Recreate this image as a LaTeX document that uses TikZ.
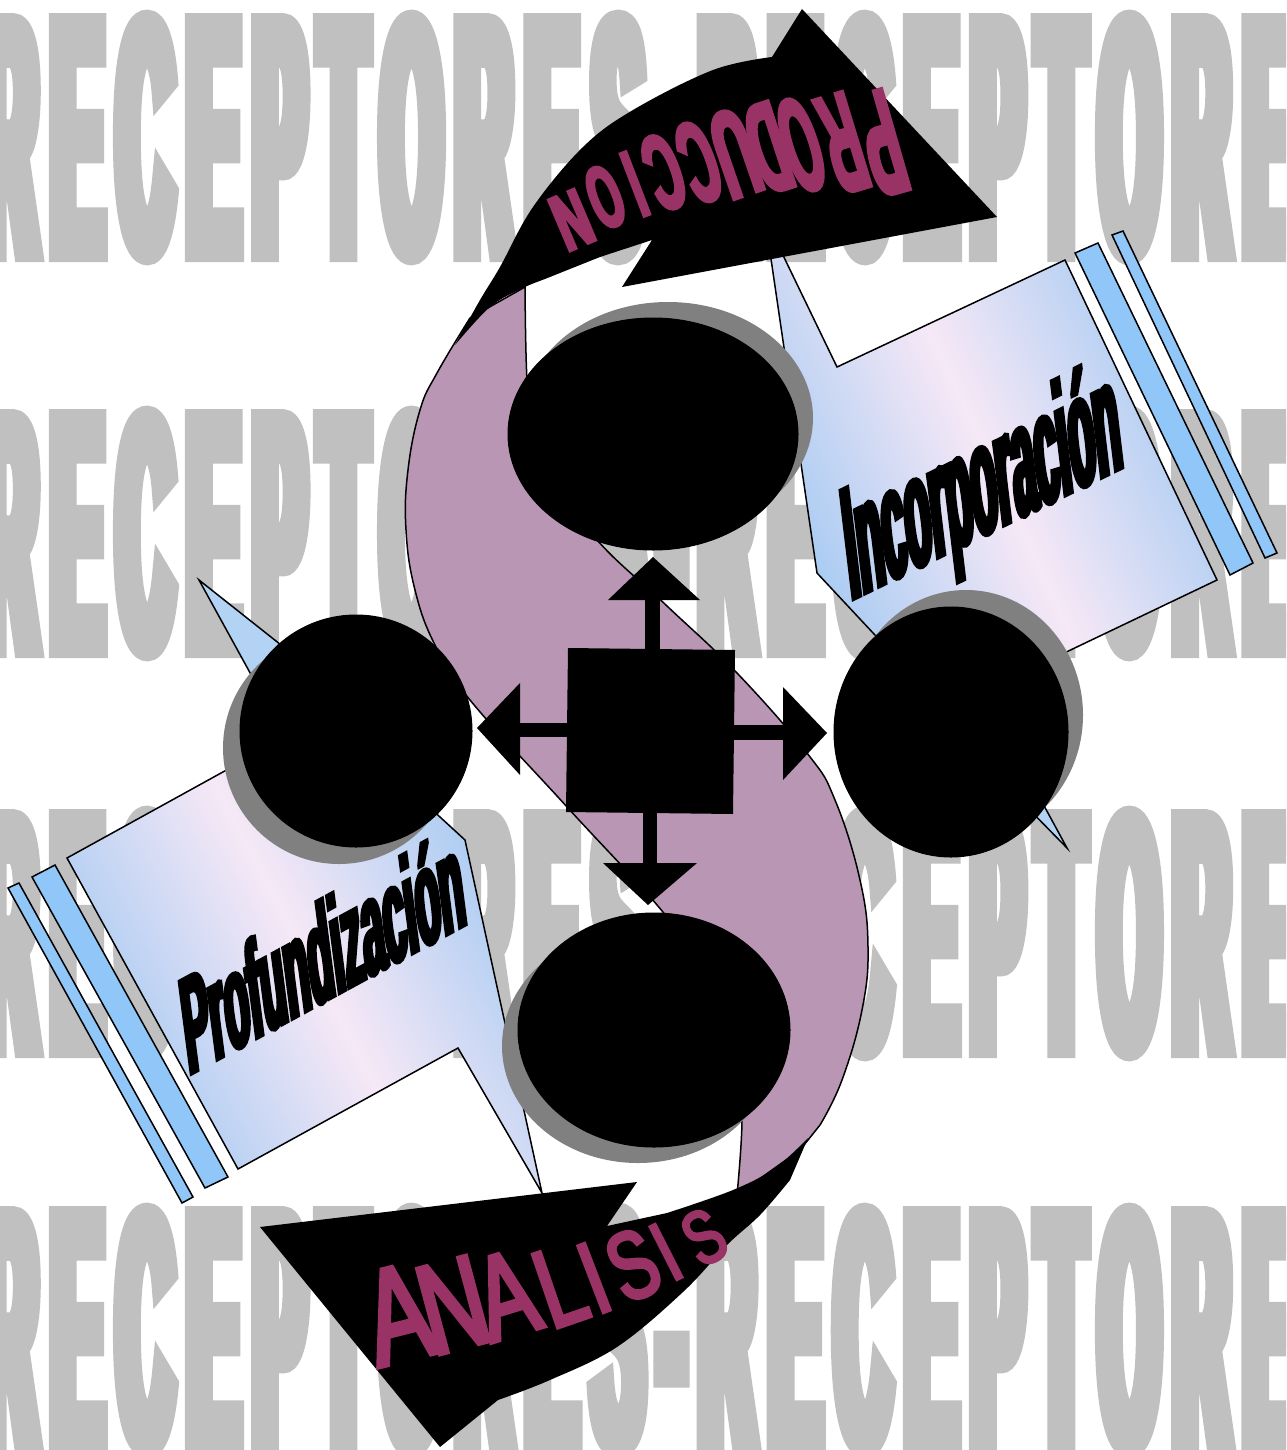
\documentclass[tikz,border=0pt]{standalone}
\usepackage{fontspec}
\newfontfamily\bgfont{Liberation Sans Bold}[FakeStretch=0.2226,FakeBold=5.04]
\newfontfamily\incfont{Liberation Sans Bold}[FakeStretch=0.261,FakeBold=2.9]
\newfontfamily\profont{Liberation Sans Bold}[FakeStretch=0.288,FakeBold=3.0]
\newfontfamily\prodfont{Liberation Sans Bold}[FakeStretch=0.42,FakeBold=3.2]
\newfontfamily\anafont{Liberation Sans}[FakeStretch=0.7,FakeBold=3.6]
\definecolor{bggray}{RGB}{192,192,192}
\definecolor{spurple}{RGB}{185,150,180}
\definecolor{mag}{RGB}{153,51,102}
\definecolor{shadowgray}{RGB}{128,128,128}
\definecolor{bnblue}{RGB}{160,200,242}
\definecolor{bnpink}{RGB}{246,232,246}
\definecolor{stripblue}{RGB}{145,198,248}
\newcommand{\bgk}{\kern16pt\relax}
\newcommand{\bgword}{R\bgk E\bgk C\bgk E\bgk P\bgk T\bgk O\bgk R\bgk E\bgk S\bgk -\bgk R\bgk E\bgk C\bgk E\bgk P\bgk T\bgk O\bgk R\bgk E\bgk S}
\tikzset{
  bgtxt/.style={anchor=base west, inner sep=0, text=bggray,
    font=\bgfont\fontsize{337}{337}\selectfont},
  ltr/.style={transform shape, inner sep=0, text=mag},
  outl/.style={draw=black, line width=1.5},
  strip/.style={fill=stripblue, draw=black, line width=1.5},
  shadowc/.style={fill=shadowgray},
  blackc/.style={fill=black, draw=black, line width=1},
}
% x, y, rotation, size, font, xscale, letter, name
\newcommand{\myltr}[8]{%
  \begin{scope}[shift={(#1,#2)}, rotate=#3, xscale=#6]
    \node[ltr, name=#8, font=#5\fontsize{#4}{#4}\selectfont] at (0,0) {#7};
  \end{scope}}
\begin{document}
\begin{tikzpicture}[x=1pt, y=-1pt]
\useasboundingbox (0,0) rectangle (1286,1450);
\clip (0,0) rectangle (1286,1450);
\fill[white] (0,0) rectangle (1286,1450);
% background words
\foreach \by/\nm in {253.5/r1, 649.5/r2, 1049.5/r3, 1446.5/r4}{
  \node[bgtxt, name=\nm] at (-18,\by) {\bgword};}
% purple S
\filldraw[fill=spurple, outl]
  plot[smooth, tension=0.7] coordinates {(470,318) (437,373) (420,410) (408,470) (406,530) (415,590) (435,645) (470,700) (568,808) (667,917) (715,990) (738,1060) (742,1120) (737,1195)}
  -- (800,1150)
  -- plot[smooth, tension=0.7] coordinates {(820,1125) (842,1080) (862,1010) (868,947) (860,880) (835,800) (807,753) (737,673) (667,606) (597,540) (555,480) (533,420) (527,380) (525,287)}
  -- cycle;
% banner Incorporacion
\shade[left color=bnblue, right color=bnblue, middle color=bnpink, shading angle=115]
  (765,218) -- (837,367) -- (1065,260) -- (1217,580) -- (945,710) -- (817,573) -- cycle;
\draw[outl] (765,218) -- (837,367) -- (1065,260) -- (1217,580) -- (945,710) -- (817,573) -- cycle;
\filldraw[strip] (1075,253) -- (1098,243) -- (1253,563) -- (1230,575) -- cycle;
\filldraw[strip] (1112,235) -- (1123,231) -- (1277,553) -- (1265,558) -- cycle;
\begin{scope}[shift={(851,600)}]
  \node[name=tinc, anchor=base west, inner sep=0, transform shape, cm={1,0.489,-0.12,1,(0,0)},
    font=\incfont\fontsize{157}{157}\selectfont] at (0,0) {Incorporación};
\end{scope}
% banner Profundizacion
\shade[left color=bnblue, right color=bnblue, middle color=bnpink, shading angle=118]
  (67,858) -- (328,714) -- (465,840) -- (542,1193) -- (458,1048) -- (238,1169) -- cycle;
\draw[outl] (67,858) -- (328,714) -- (465,840) -- (542,1193) -- (458,1048) -- (238,1169) -- cycle;
\filldraw[strip] (32,877) -- (55,865) -- (228,1177) -- (205,1188) -- cycle;
\filldraw[strip] (8,888) -- (19,883) -- (193,1197) -- (182,1203) -- cycle;
\begin{scope}[shift={(189,1075)}]
  \node[name=tpro, anchor=base west, inner sep=0, transform shape, cm={1,0.544,-0.13,1,(0,0)},
    font=\profont\fontsize{134}{134}\selectfont] at (0,0) {Profundización};
\end{scope}
% small blue pointers
\filldraw[fill=bnblue!80, outl] (199,580) -- (265,700) -- (300,660) -- cycle;
\filldraw[fill=bnblue!80, outl] (1067,848) -- (1020,800) -- (1030,780) -- cycle;
% circles
\fill[shadowc] (668,418) ellipse [x radius=145, y radius=116];
\filldraw[blackc] (653,434) ellipse [x radius=145, y radius=116];
\node[name=ctop, inner sep=0] at (653,434) {};
\fill[shadowc] (339,748) ellipse [x radius=116, y radius=116];
\filldraw[blackc] (356,731) ellipse [x radius=116, y radius=116];
\node[name=cleft, inner sep=0] at (356,731) {};
\fill[shadowc] (966,715) ellipse [x radius=117, y radius=125];
\filldraw[blackc] (951,732) ellipse [x radius=117, y radius=125];
\node[name=cright, inner sep=0] at (951,732) {};
\fill[shadowc] (638,1046) ellipse [x radius=136, y radius=117];
\filldraw[blackc] (654,1030) ellipse [x radius=136, y radius=117];
\node[name=cbot, inner sep=0] at (654,1030) {};
% center square and arrows
\fill[black] (568,648) -- (735,650) -- (733,814) -- (566,812) -- cycle;
\fill[black] (645,600) rectangle (660,650);
\fill[black] (608,600) -- (700,600) -- (653,557) -- cycle;
\fill[black] (643,812) rectangle (657,863);
\fill[black] (603,863) -- (697,863) -- (648,905) -- cycle;
\fill[black] (520,723) rectangle (568,737);
\fill[black] (520,683) -- (520,775) -- (477,728) -- cycle;
\fill[black] (733,725) rectangle (783,740);
\fill[black] (783,687) -- (783,780) -- (827,733) -- cycle;
% PRODUCCION arrow
\fill[black] plot[smooth, tension=0.6] coordinates {(455,345) (480,300) (500,267) (533,207) (583,147) (633,110) (713,70) (772,57)}
  -- (802,9) -- (997,217) -- (622,287) -- (652,240)
  -- plot[smooth, tension=0.6] coordinates {(600,257) (550,277) (523,288) (490,307) (455,345)} -- cycle;
% ANALISIS arrow
\fill[black] (260,1227) -- (637,1182) -- (607,1226)
  -- plot[smooth, tension=0.6] coordinates {(667,1213) (733,1190) (775,1168) (808,1138)}
  -- plot[smooth, tension=0.6] coordinates {(790,1180) (760,1215) (727,1245) (683,1292) (617,1347) (550,1380) (498,1400)}
  -- (440,1447) -- cycle;
% PRODUCCION letters
\myltr{882}{143}{196}{150}{\prodfont}{0.84}{P}{p1}
\myltr{843}{143}{197}{142}{\prodfont}{0.81}{R}{p2}
\myltr{801}{145}{198}{134}{\prodfont}{0.81}{O}{p3}
\myltr{768}{148}{198}{129}{\prodfont}{0.89}{D}{p4}
\myltr{735}{153}{199}{124}{\prodfont}{1.0}{U}{p5}
\myltr{699}{162}{200}{116}{\prodfont}{0.94}{C}{p6}
\myltr{664}{172}{200}{108}{\prodfont}{1.0}{C}{p7}
\myltr{635}{184}{201}{97}{\prodfont}{1.0}{I}{p8}
\myltr{605}{197}{202}{89}{\prodfont}{1.07}{O}{p9}
\myltr{572}{220}{203}{81}{\prodfont}{1.36}{N}{p10}
% ANALISIS letters
\myltr{398}{1314}{14}{136}{\anafont}{1}{A}{a1}
\myltr{453}{1305}{15}{128}{\anafont}{1}{N}{a2}
\myltr{506}{1295}{17}{120}{\anafont}{1}{A}{a3}
\myltr{560}{1286}{19}{112}{\anafont}{1}{L}{a4}
\myltr{594}{1278}{21}{103}{\anafont}{1}{I}{a5}
\myltr{633}{1265}{24}{96}{\anafont}{1}{S}{a6}
\myltr{666}{1252}{27}{86}{\anafont}{1}{I}{a7}
\myltr{704}{1237}{30}{76}{\anafont}{1}{S}{a8}
\end{tikzpicture}
\end{document}
